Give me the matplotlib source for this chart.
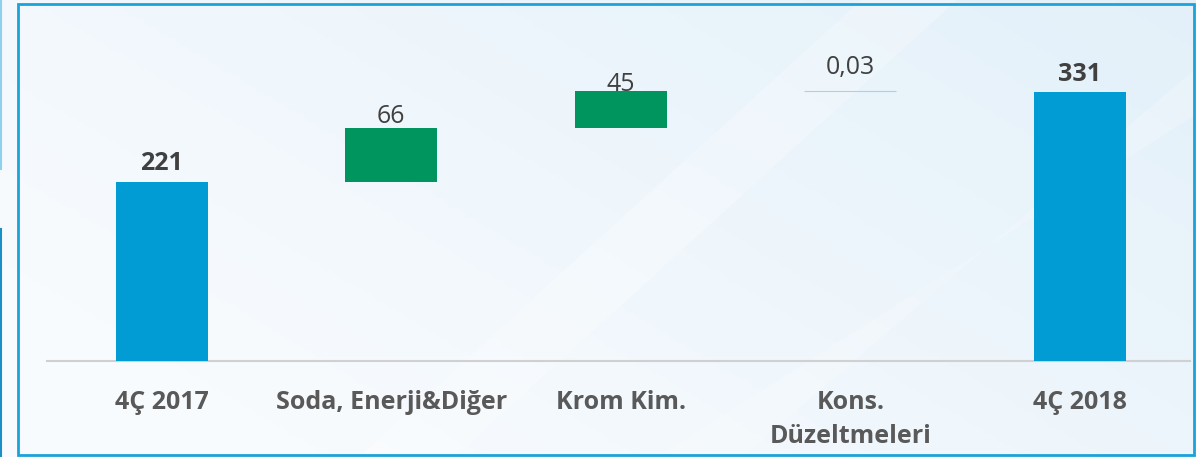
import numpy as np
import matplotlib.pyplot as plt
from matplotlib.patches import Rectangle, Polygon

categories = ['4Ç 2017', 'Soda, Enerji&Diğer', 'Krom Kim.', 'Kons.\nDüzeltmeleri', '4Ç 2018']
values = [221, 66, 45, 0.03, 331]
labels = ['221', '66', '45', '0,03', '331']
is_total = [True, False, False, False, True]

blue = '#019CD3'
green = '#00945F'
text_dark = '#404040'
text_gray = '#595959'

plt.rcParams['font.family'] = ['Open Sans', 'DejaVu Sans']

fig = plt.figure(figsize=(11.96, 4.57), dpi=100)

# background gradient
bg = fig.add_axes([0, 0, 1, 1], zorder=-10)
gx, gy = np.meshgrid(np.linspace(0, 1, 300), np.linspace(0, 1, 120))
g = np.clip(0.55 * gx + 0.35 * (1 - gy) - 0.15, 0, 1)
c0 = np.array([248, 251, 254]) / 255
c1 = np.array([220, 237, 248]) / 255
img = c0 + (c1 - c0) * g[..., None]
bg.imshow(img, extent=[0, 1, 0, 1], aspect='auto', origin='upper')
bg.add_patch(Polygon([[0.30, 0], [0.72, 1], [0.80, 1], [0.38, 0]], closed=True,
                     facecolor='white', alpha=0.25, lw=0))
bg.add_patch(Polygon([[0.55, 0], [1.0, 0.75], [1.0, 0.85], [0.62, 0]], closed=True,
                     facecolor='white', alpha=0.2, lw=0))
bg.add_patch(Rectangle((18 / 1196, 2 / 457), 1176 / 1196, 451 / 457, fill=False,
                       edgecolor='#1AA3DA', lw=2))
bg.plot([0.0008, 0.0008], [1, 0.63], color='#8FD0EC', lw=1.5)
bg.plot([0.0008, 0.0008], [0.50, 0], color='#1A8FC4', lw=1.5)
bg.set_xlim(0, 1)
bg.set_ylim(0, 1)
bg.axis('off')

ax = fig.add_axes([47 / 1196, 96 / 457, 1143 / 1196, 341 / 457])
ax.set_facecolor('none')

x = np.arange(len(categories))
bottoms = []
running = 0
for v, tot in zip(values, is_total):
    if tot:
        bottoms.append(0)
        running = v
    else:
        bottoms.append(running)
        running += v

for i, (v, b, tot) in enumerate(zip(values, bottoms, is_total)):
    if tot:
        ax.bar(x[i], v, bottom=b, width=0.40, color=blue, zorder=3)
    elif v < 1:
        ax.bar(x[i], v, bottom=b, width=0.40, color='#A6D6DA', edgecolor='#A6D6DA',
               lw=0.8, zorder=3)
    else:
        ax.bar(x[i], v, bottom=b, width=0.40, color=green, zorder=3)

label_offsets = [4, -1, -4, 8, 4]
for i, (v, b, tot, lab) in enumerate(zip(values, bottoms, is_total, labels)):
    ax.annotate(lab, (x[i], b + v), xytext=(0, label_offsets[i]),
                textcoords='offset points', ha='center', va='bottom',
                fontsize=18, color=text_dark,
                fontweight='bold' if tot else 'normal', zorder=4)

ax.set_xlim(-0.5, 4.48)
ax.set_ylim(0, 420)
ax.set_xticks(x)
ax.set_xticklabels(categories, fontsize=18, fontweight='bold', color=text_gray,
                   linespacing=1.45)
ax.tick_params(axis='x', length=0, pad=21)
ax.set_yticks([])
for s in ['top', 'right', 'left']:
    ax.spines[s].set_visible(False)
ax.spines['bottom'].set_color('#D0D0D0')
ax.spines['bottom'].set_linewidth(1.5)

fig.savefig('out.png', dpi=100)
